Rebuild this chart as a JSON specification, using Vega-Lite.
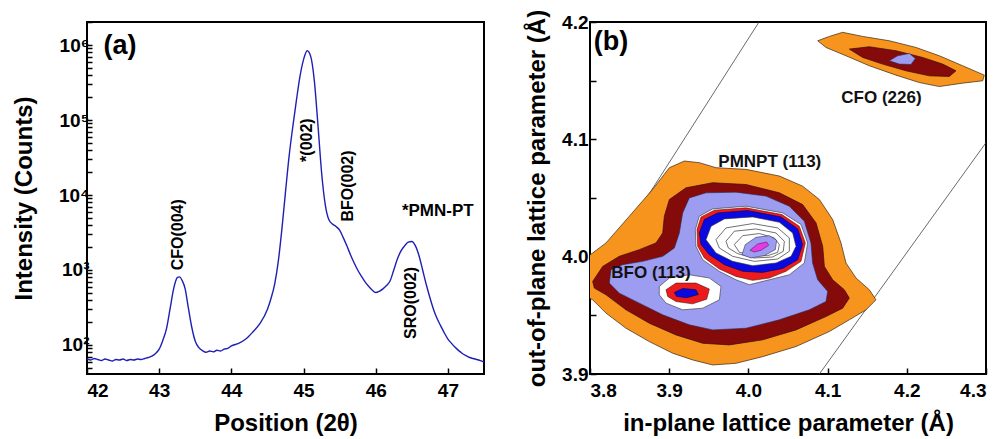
{
"$schema": "https://vega.github.io/schema/vega-lite/v6.json",
"padding": {"left": 11, "top": 8, "right": 5, "bottom": 5},
"background": "white",
"spacing": 39,
"config": {
  "view": {"stroke": "black", "strokeWidth": 2},
  "axis": {"domain": false, "grid": false, "labelFont": "Liberation Sans", "labelFontSize": 19, "labelFontWeight": "bold", "labelColor": "black", "titleFont": "Liberation Sans", "titleFontSize": 24, "titleFontWeight": "bold", "titleColor": "black", "tickColor": "black", "tickWidth": 1.5, "labelPadding": 6},
  "text": {"font": "Liberation Sans", "fontWeight": "bold", "color": "black"}
},
"datasets": {
  "xrd": [
    {"pos":42.00,"counts":65},{"pos":42.05,"counts":63},{"pos":42.10,"counts":66},{"pos":42.15,"counts":64},{"pos":42.20,"counts":62},{"pos":42.25,"counts":65},{"pos":42.30,"counts":63},{"pos":42.35,"counts":61},{"pos":42.40,"counts":64},{"pos":42.45,"counts":63},{"pos":42.50,"counts":65},{"pos":42.55,"counts":62},{"pos":42.60,"counts":64},{"pos":42.65,"counts":63},{"pos":42.70,"counts":65},{"pos":42.75,"counts":64},{"pos":42.80,"counts":66},{"pos":42.85,"counts":68},{"pos":42.90,"counts":71},{"pos":42.95,"counts":77},{"pos":43.00,"counts":88},{"pos":43.05,"counts":115},{"pos":43.10,"counts":163},{"pos":43.15,"counts":300},{"pos":43.20,"counts":560},{"pos":43.25,"counts":790},{"pos":43.28,"counts":810},{"pos":43.32,"counts":720},{"pos":43.36,"counts":560},{"pos":43.40,"counts":330},{"pos":43.45,"counts":175},{"pos":43.50,"counts":112},{"pos":43.55,"counts":92},{"pos":43.60,"counts":84},{"pos":43.65,"counts":80},{"pos":43.70,"counts":83},{"pos":43.75,"counts":81},{"pos":43.80,"counts":85},{"pos":43.85,"counts":83},{"pos":43.90,"counts":88},{"pos":43.95,"counts":90},{"pos":44.00,"counts":97},{"pos":44.10,"counts":105},{"pos":44.20,"counts":120},{"pos":44.30,"counts":150},{"pos":44.40,"counts":195},{"pos":44.50,"counts":300},{"pos":44.55,"counts":420},{"pos":44.60,"counts":650},{"pos":44.65,"counts":1300},{"pos":44.70,"counts":3500},{"pos":44.75,"counts":11000},{"pos":44.80,"counts":33000},{"pos":44.85,"counts":80000},{"pos":44.90,"counts":180000},{"pos":44.95,"counts":380000},{"pos":45.00,"counts":640000},{"pos":45.05,"counts":840000},{"pos":45.10,"counts":700000},{"pos":45.15,"counts":330000},{"pos":45.20,"counts":85000},{"pos":45.25,"counts":20000},{"pos":45.30,"counts":7500},{"pos":45.35,"counts":4700},{"pos":45.40,"counts":4100},{"pos":45.45,"counts":3800},{"pos":45.50,"counts":3400},{"pos":45.55,"counts":2700},{"pos":45.60,"counts":2100},{"pos":45.65,"counts":1600},{"pos":45.70,"counts":1250},{"pos":45.75,"counts":1000},{"pos":45.80,"counts":830},{"pos":45.85,"counts":700},{"pos":45.90,"counts":610},{"pos":45.95,"counts":540},{"pos":46.00,"counts":500},{"pos":46.05,"counts":520},{"pos":46.10,"counts":560},{"pos":46.15,"counts":620},{"pos":46.20,"counts":720},{"pos":46.25,"counts":1000},{"pos":46.30,"counts":1400},{"pos":46.35,"counts":1800},{"pos":46.40,"counts":2100},{"pos":46.45,"counts":2350},{"pos":46.50,"counts":2400},{"pos":46.55,"counts":2100},{"pos":46.60,"counts":1550},{"pos":46.65,"counts":1000},{"pos":46.70,"counts":640},{"pos":46.75,"counts":430},{"pos":46.80,"counts":300},{"pos":46.85,"counts":225},{"pos":46.90,"counts":180},{"pos":46.95,"counts":145},{"pos":47.00,"counts":120},{"pos":47.05,"counts":105},{"pos":47.10,"counts":93},{"pos":47.15,"counts":84},{"pos":47.20,"counts":77},{"pos":47.25,"counts":72},{"pos":47.30,"counts":68},{"pos":47.35,"counts":66},{"pos":47.40,"counts":64},{"pos":47.45,"counts":62},{"pos":47.50,"counts":59}
  ],
  "xrdrot": [
    {"label":"CFO(004)","pos":43.26,"counts":2950},
    {"label":"*(002)","pos":45.05,"counts":54000},
    {"label":"BFO(002)","pos":45.62,"counts":13200},
    {"label":"SRO(002)","pos":46.49,"counts":363}
  ],
  "xrdhor": [
    {"label":"*PMN-PT","pos":46.86,"counts":6100}
  ],
  "panels": [
    {"label":"(a)","pos":42.457,"counts":970000}
  ],
  "diag": [
    {"line":1,"i":1,"a":3.8,"c":3.9746},{"line":1,"i":2,"a":4.0134,"c":4.2},
    {"line":2,"i":1,"a":4.0896,"c":3.9},{"line":2,"i":2,"a":4.3,"c":4.0972}
  ],
  "rsmlab": [
    {"label":"CFO (226)","a":4.168,"c":4.1356},
    {"label":"PMNPT (113)","a":4.027,"c":4.081},
    {"label":"BFO (113)","a":3.877,"c":3.986}
  ],
  "rsmpanel": [
    {"label":"(b)","a":3.8265,"c":4.183}
  ],
  "rsm": [
    {"lvl":"o","s":"o1","i":1,"a":3.7865,"c":3.9946},{"lvl":"o","s":"o1","i":2,"a":3.8202,"c":4.0117},{"lvl":"o","s":"o1","i":3,"a":3.8497,"c":4.0345},{"lvl":"o","s":"o1","i":4,"a":3.8791,"c":4.0573},{"lvl":"o","s":"o1","i":5,"a":3.9002,"c":4.0758},{"lvl":"o","s":"o1","i":6,"a":3.9191,"c":4.0815},{"lvl":"o","s":"o1","i":7,"a":3.9380,"c":4.0801},{"lvl":"o","s":"o1","i":8,"a":3.9591,"c":4.0758},{"lvl":"o","s":"o1","i":9,"a":3.9970,"c":4.0744},{"lvl":"o","s":"o1","i":10,"a":4.0391,"c":4.0687},{"lvl":"o","s":"o1","i":11,"a":4.0685,"c":4.0601},{"lvl":"o","s":"o1","i":12,"a":4.0896,"c":4.0487},{"lvl":"o","s":"o1","i":13,"a":4.1064,"c":4.0316},{"lvl":"o","s":"o1","i":14,"a":4.1169,"c":4.0117},{"lvl":"o","s":"o1","i":15,"a":4.1232,"c":3.9946},{"lvl":"o","s":"o1","i":16,"a":4.1359,"c":3.9818},{"lvl":"o","s":"o1","i":17,"a":4.1527,"c":3.9718},{"lvl":"o","s":"o1","i":18,"a":4.1611,"c":3.9632},{"lvl":"o","s":"o1","i":19,"a":4.1485,"c":3.9547},{"lvl":"o","s":"o1","i":20,"a":4.1274,"c":3.9462},{"lvl":"o","s":"o1","i":21,"a":4.1022,"c":3.9362},{"lvl":"o","s":"o1","i":22,"a":4.0601,"c":3.9234},{"lvl":"o","s":"o1","i":23,"a":4.0180,"c":3.9148},{"lvl":"o","s":"o1","i":24,"a":3.9843,"c":3.9091},{"lvl":"o","s":"o1","i":25,"a":3.9549,"c":3.9077},{"lvl":"o","s":"o1","i":26,"a":3.9296,"c":3.9120},{"lvl":"o","s":"o1","i":27,"a":3.9044,"c":3.9177},{"lvl":"o","s":"o1","i":28,"a":3.8749,"c":3.9276},{"lvl":"o","s":"o1","i":29,"a":3.8455,"c":3.9390},{"lvl":"o","s":"o1","i":30,"a":3.8202,"c":3.9519},{"lvl":"o","s":"o1","i":31,"a":3.8034,"c":3.9632},{"lvl":"o","s":"o1","i":32,"a":3.7865,"c":3.9689},{"lvl":"o","s":"o1","i":33,"a":3.7865,"c":3.9946},
    {"lvl":"o","s":"o2","i":1,"a":4.0875,"c":4.1840},{"lvl":"o","s":"o2","i":2,"a":4.1022,"c":4.1877},{"lvl":"o","s":"o2","i":3,"a":4.1190,"c":4.1912},{"lvl":"o","s":"o2","i":4,"a":4.1443,"c":4.1877},{"lvl":"o","s":"o2","i":5,"a":4.1779,"c":4.1840},{"lvl":"o","s":"o2","i":6,"a":4.2116,"c":4.1783},{"lvl":"o","s":"o2","i":7,"a":4.2411,"c":4.1712},{"lvl":"o","s":"o2","i":8,"a":4.2705,"c":4.1627},{"lvl":"o","s":"o2","i":9,"a":4.2979,"c":4.1547},{"lvl":"o","s":"o2","i":10,"a":4.2958,"c":4.1499},{"lvl":"o","s":"o2","i":11,"a":4.2705,"c":4.1479},{"lvl":"o","s":"o2","i":12,"a":4.2411,"c":4.1450},{"lvl":"o","s":"o2","i":13,"a":4.2158,"c":4.1484},{"lvl":"o","s":"o2","i":14,"a":4.1864,"c":4.1547},{"lvl":"o","s":"o2","i":15,"a":4.1527,"c":4.1627},{"lvl":"o","s":"o2","i":16,"a":4.1232,"c":4.1712},{"lvl":"o","s":"o2","i":17,"a":4.0980,"c":4.1783},{"lvl":"o","s":"o2","i":18,"a":4.0875,"c":4.1840},
    {"lvl":"m","s":"m1","i":1,"a":3.8034,"c":3.9789},{"lvl":"m","s":"m1","i":2,"a":3.8160,"c":3.9917},{"lvl":"m","s":"m1","i":3,"a":3.8370,"c":4.0003},{"lvl":"m","s":"m1","i":4,"a":3.8623,"c":4.0060},{"lvl":"m","s":"m1","i":5,"a":3.8833,"c":4.0117},{"lvl":"m","s":"m1","i":6,"a":3.8918,"c":4.0202},{"lvl":"m","s":"m1","i":7,"a":3.8939,"c":4.0345},{"lvl":"m","s":"m1","i":8,"a":3.9002,"c":4.0487},{"lvl":"m","s":"m1","i":9,"a":3.9212,"c":4.0587},{"lvl":"m","s":"m1","i":10,"a":3.9549,"c":4.0630},{"lvl":"m","s":"m1","i":11,"a":3.9970,"c":4.0615},{"lvl":"m","s":"m1","i":12,"a":4.0391,"c":4.0544},{"lvl":"m","s":"m1","i":13,"a":4.0685,"c":4.0444},{"lvl":"m","s":"m1","i":14,"a":4.0854,"c":4.0288},{"lvl":"m","s":"m1","i":15,"a":4.0938,"c":4.0088},{"lvl":"m","s":"m1","i":16,"a":4.0959,"c":3.9917},{"lvl":"m","s":"m1","i":17,"a":4.1064,"c":3.9803},{"lvl":"m","s":"m1","i":18,"a":4.1211,"c":3.9718},{"lvl":"m","s":"m1","i":19,"a":4.1274,"c":3.9647},{"lvl":"m","s":"m1","i":20,"a":4.1190,"c":3.9561},{"lvl":"m","s":"m1","i":21,"a":4.0980,"c":3.9490},{"lvl":"m","s":"m1","i":22,"a":4.0601,"c":3.9376},{"lvl":"m","s":"m1","i":23,"a":4.0180,"c":3.9291},{"lvl":"m","s":"m1","i":24,"a":3.9759,"c":3.9248},{"lvl":"m","s":"m1","i":25,"a":3.9423,"c":3.9262},{"lvl":"m","s":"m1","i":26,"a":3.9086,"c":3.9333},{"lvl":"m","s":"m1","i":27,"a":3.8749,"c":3.9433},{"lvl":"m","s":"m1","i":28,"a":3.8455,"c":3.9547},{"lvl":"m","s":"m1","i":29,"a":3.8202,"c":3.9675},{"lvl":"m","s":"m1","i":30,"a":3.8055,"c":3.9732},{"lvl":"m","s":"m1","i":31,"a":3.8034,"c":3.9789},
    {"lvl":"m","s":"m2","i":1,"a":4.1274,"c":4.1769},{"lvl":"m","s":"m2","i":2,"a":4.1527,"c":4.1789},{"lvl":"m","s":"m2","i":3,"a":4.1864,"c":4.1755},{"lvl":"m","s":"m2","i":4,"a":4.2200,"c":4.1698},{"lvl":"m","s":"m2","i":5,"a":4.2453,"c":4.1641},{"lvl":"m","s":"m2","i":6,"a":4.2621,"c":4.1584},{"lvl":"m","s":"m2","i":7,"a":4.2537,"c":4.1536},{"lvl":"m","s":"m2","i":8,"a":4.2285,"c":4.1541},{"lvl":"m","s":"m2","i":9,"a":4.1990,"c":4.1584},{"lvl":"m","s":"m2","i":10,"a":4.1695,"c":4.1641},{"lvl":"m","s":"m2","i":11,"a":4.1443,"c":4.1698},{"lvl":"m","s":"m2","i":12,"a":4.1274,"c":4.1769},
    {"lvl":"l","s":"l1","i":1,"a":3.8244,"c":3.9775},{"lvl":"l","s":"l1","i":2,"a":3.8265,"c":3.9889},{"lvl":"l","s":"l1","i":3,"a":3.8412,"c":3.9932},{"lvl":"l","s":"l1","i":4,"a":3.8665,"c":3.9960},{"lvl":"l","s":"l1","i":5,"a":3.8918,"c":4.0003},{"lvl":"l","s":"l1","i":6,"a":3.9065,"c":4.0074},{"lvl":"l","s":"l1","i":7,"a":3.9128,"c":4.0202},{"lvl":"l","s":"l1","i":8,"a":3.9170,"c":4.0373},{"lvl":"l","s":"l1","i":9,"a":3.9254,"c":4.0501},{"lvl":"l","s":"l1","i":10,"a":3.9465,"c":4.0544},{"lvl":"l","s":"l1","i":11,"a":3.9843,"c":4.0550},{"lvl":"l","s":"l1","i":12,"a":4.0222,"c":4.0516},{"lvl":"l","s":"l1","i":13,"a":4.0517,"c":4.0430},{"lvl":"l","s":"l1","i":14,"a":4.0706,"c":4.0302},{"lvl":"l","s":"l1","i":15,"a":4.0790,"c":4.0117},{"lvl":"l","s":"l1","i":16,"a":4.0811,"c":3.9946},{"lvl":"l","s":"l1","i":17,"a":4.0875,"c":3.9803},{"lvl":"l","s":"l1","i":18,"a":4.1001,"c":3.9704},{"lvl":"l","s":"l1","i":19,"a":4.0980,"c":3.9618},{"lvl":"l","s":"l1","i":20,"a":4.0769,"c":3.9547},{"lvl":"l","s":"l1","i":21,"a":4.0391,"c":3.9462},{"lvl":"l","s":"l1","i":22,"a":3.9970,"c":3.9390},{"lvl":"l","s":"l1","i":23,"a":3.9549,"c":3.9376},{"lvl":"l","s":"l1","i":24,"a":3.9254,"c":3.9419},{"lvl":"l","s":"l1","i":25,"a":3.8918,"c":3.9504},{"lvl":"l","s":"l1","i":26,"a":3.8623,"c":3.9604},{"lvl":"l","s":"l1","i":27,"a":3.8370,"c":3.9689},{"lvl":"l","s":"l1","i":28,"a":3.8244,"c":3.9775},
    {"lvl":"l","s":"l2","i":1,"a":4.1779,"c":4.1670},{"lvl":"l","s":"l2","i":2,"a":4.1885,"c":4.1712},{"lvl":"l","s":"l2","i":3,"a":4.2032,"c":4.1732},{"lvl":"l","s":"l2","i":4,"a":4.2108,"c":4.1689},{"lvl":"l","s":"l2","i":5,"a":4.2053,"c":4.1638},{"lvl":"l","s":"l2","i":6,"a":4.1906,"c":4.1641},{"lvl":"l","s":"l2","i":7,"a":4.1779,"c":4.1670},
    {"lvl":"w","s":"w1","i":1,"a":3.9330,"c":4.0231},{"lvl":"w","s":"w1","i":2,"a":3.9380,"c":4.0345},{"lvl":"w","s":"w1","i":3,"a":3.9549,"c":4.0407},{"lvl":"w","s":"w1","i":4,"a":3.9970,"c":4.0430},{"lvl":"w","s":"w1","i":5,"a":4.0433,"c":4.0373},{"lvl":"w","s":"w1","i":6,"a":4.0664,"c":4.0274},{"lvl":"w","s":"w1","i":7,"a":4.0748,"c":4.0117},{"lvl":"w","s":"w1","i":8,"a":4.0706,"c":3.9946},{"lvl":"w","s":"w1","i":9,"a":4.0517,"c":3.9846},{"lvl":"w","s":"w1","i":10,"a":4.0264,"c":3.9803},{"lvl":"w","s":"w1","i":11,"a":4.0012,"c":3.9761},{"lvl":"w","s":"w1","i":12,"a":3.9843,"c":3.9803},{"lvl":"w","s":"w1","i":13,"a":3.9633,"c":3.9875},{"lvl":"w","s":"w1","i":14,"a":3.9423,"c":3.9974},{"lvl":"w","s":"w1","i":15,"a":3.9338,"c":4.0088},{"lvl":"w","s":"w1","i":16,"a":3.9330,"c":4.0231},
    {"lvl":"w","s":"w2","i":1,"a":3.8875,"c":3.9746},{"lvl":"w","s":"w2","i":2,"a":3.9002,"c":3.9818},{"lvl":"w","s":"w2","i":3,"a":3.9254,"c":3.9846},{"lvl":"w","s":"w2","i":4,"a":3.9507,"c":3.9818},{"lvl":"w","s":"w2","i":5,"a":3.9654,"c":3.9746},{"lvl":"w","s":"w2","i":6,"a":3.9633,"c":3.9632},{"lvl":"w","s":"w2","i":7,"a":3.9423,"c":3.9561},{"lvl":"w","s":"w2","i":8,"a":3.9170,"c":3.9547},{"lvl":"w","s":"w2","i":9,"a":3.8960,"c":3.9604},{"lvl":"w","s":"w2","i":10,"a":3.8875,"c":3.9675},{"lvl":"w","s":"w2","i":11,"a":3.8875,"c":3.9746},
    {"lvl":"r","s":"r1","i":1,"a":3.9351,"c":4.0231},{"lvl":"r","s":"r1","i":2,"a":3.9402,"c":4.0339},{"lvl":"r","s":"r1","i":3,"a":3.9570,"c":4.0396},{"lvl":"r","s":"r1","i":4,"a":3.9970,"c":4.0416},{"lvl":"r","s":"r1","i":5,"a":4.0424,"c":4.0359},{"lvl":"r","s":"r1","i":6,"a":4.0643,"c":4.0259},{"lvl":"r","s":"r1","i":7,"a":4.0719,"c":4.0117},{"lvl":"r","s":"r1","i":8,"a":4.0664,"c":3.9960},{"lvl":"r","s":"r1","i":9,"a":4.0475,"c":3.9875},{"lvl":"r","s":"r1","i":10,"a":4.0264,"c":3.9818},{"lvl":"r","s":"r1","i":11,"a":4.0054,"c":3.9798},{"lvl":"r","s":"r1","i":12,"a":3.9843,"c":3.9832},{"lvl":"r","s":"r1","i":13,"a":3.9633,"c":3.9895},{"lvl":"r","s":"r1","i":14,"a":3.9444,"c":3.9989},{"lvl":"r","s":"r1","i":15,"a":3.9360,"c":4.0088},{"lvl":"r","s":"r1","i":16,"a":3.9351,"c":4.0231},
    {"lvl":"r","s":"r2","i":1,"a":3.8960,"c":3.9718},{"lvl":"r","s":"r2","i":2,"a":3.9086,"c":3.9775},{"lvl":"r","s":"r2","i":3,"a":3.9338,"c":3.9775},{"lvl":"r","s":"r2","i":4,"a":3.9507,"c":3.9724},{"lvl":"r","s":"r2","i":5,"a":3.9473,"c":3.9638},{"lvl":"r","s":"r2","i":6,"a":3.9296,"c":3.9598},{"lvl":"r","s":"r2","i":7,"a":3.9086,"c":3.9618},{"lvl":"r","s":"r2","i":8,"a":3.8981,"c":3.9661},{"lvl":"r","s":"r2","i":9,"a":3.8960,"c":3.9718},
    {"lvl":"b","s":"b1","i":1,"a":3.9380,"c":4.0202},{"lvl":"b","s":"b1","i":2,"a":3.9444,"c":4.0316},{"lvl":"b","s":"b1","i":3,"a":3.9613,"c":4.0373},{"lvl":"b","s":"b1","i":4,"a":3.9991,"c":4.0393},{"lvl":"b","s":"b1","i":5,"a":4.0412,"c":4.0339},{"lvl":"b","s":"b1","i":6,"a":4.0622,"c":4.0237},{"lvl":"b","s":"b1","i":7,"a":4.0685,"c":4.0103},{"lvl":"b","s":"b1","i":8,"a":4.0622,"c":3.9974},{"lvl":"b","s":"b1","i":9,"a":4.0433,"c":3.9900},{"lvl":"b","s":"b1","i":10,"a":4.0180,"c":3.9866},{"lvl":"b","s":"b1","i":11,"a":3.9928,"c":3.9875},{"lvl":"b","s":"b1","i":12,"a":3.9697,"c":3.9932},{"lvl":"b","s":"b1","i":13,"a":3.9507,"c":4.0017},{"lvl":"b","s":"b1","i":14,"a":3.9402,"c":4.0103},{"lvl":"b","s":"b1","i":15,"a":3.9380,"c":4.0202},
    {"lvl":"b","s":"b2","i":1,"a":3.9065,"c":3.9695},{"lvl":"b","s":"b2","i":2,"a":3.9170,"c":3.9729},{"lvl":"b","s":"b2","i":3,"a":3.9338,"c":3.9718},{"lvl":"b","s":"b2","i":4,"a":3.9368,"c":3.9678},{"lvl":"b","s":"b2","i":5,"a":3.9221,"c":3.9650},{"lvl":"b","s":"b2","i":6,"a":3.9094,"c":3.9661},{"lvl":"b","s":"b2","i":7,"a":3.9065,"c":3.9695},
    {"lvl":"wi","s":"wi","i":1,"a":3.9465,"c":4.0145},{"lvl":"wi","s":"wi","i":2,"a":3.9529,"c":4.0259},{"lvl":"wi","s":"wi","i":3,"a":3.9697,"c":4.0322},{"lvl":"wi","s":"wi","i":4,"a":4.0054,"c":4.0339},{"lvl":"wi","s":"wi","i":5,"a":4.0391,"c":4.0293},{"lvl":"wi","s":"wi","i":6,"a":4.0559,"c":4.0202},{"lvl":"wi","s":"wi","i":7,"a":4.0601,"c":4.0088},{"lvl":"wi","s":"wi","i":8,"a":4.0539,"c":4.0003},{"lvl":"wi","s":"wi","i":9,"a":4.0349,"c":3.9946},{"lvl":"wi","s":"wi","i":10,"a":4.0054,"c":3.9923},{"lvl":"wi","s":"wi","i":11,"a":3.9801,"c":3.9960},{"lvl":"wi","s":"wi","i":12,"a":3.9591,"c":4.0031},{"lvl":"wi","s":"wi","i":13,"a":3.9465,"c":4.0145},
    {"lvl":"k","s":"kA","i":1,"a":3.9591,"c":4.0145},{"lvl":"k","s":"kA","i":2,"a":3.9717,"c":4.0245},{"lvl":"k","s":"kA","i":3,"a":4.0054,"c":4.0282},{"lvl":"k","s":"kA","i":4,"a":4.0370,"c":4.0245},{"lvl":"k","s":"kA","i":5,"a":4.0517,"c":4.0160},{"lvl":"k","s":"kA","i":6,"a":4.0517,"c":4.0046},{"lvl":"k","s":"kA","i":7,"a":4.0370,"c":3.9980},{"lvl":"k","s":"kA","i":8,"a":4.0075,"c":3.9960},{"lvl":"k","s":"kA","i":9,"a":3.9801,"c":4.0003},{"lvl":"k","s":"kA","i":10,"a":3.9633,"c":4.0074},{"lvl":"k","s":"kA","i":11,"a":3.9591,"c":4.0145},
    {"lvl":"k","s":"kB","i":1,"a":3.9717,"c":4.0131},{"lvl":"k","s":"kB","i":2,"a":3.9822,"c":4.0217},{"lvl":"k","s":"kB","i":3,"a":4.0096,"c":4.0236},{"lvl":"k","s":"kB","i":4,"a":4.0348,"c":4.0202},{"lvl":"k","s":"kB","i":5,"a":4.0454,"c":4.0131},{"lvl":"k","s":"kB","i":6,"a":4.0441,"c":4.0046},{"lvl":"k","s":"kB","i":7,"a":4.0306,"c":3.9997},{"lvl":"k","s":"kB","i":8,"a":4.0075,"c":3.9989},{"lvl":"k","s":"kB","i":9,"a":3.9864,"c":4.0026},{"lvl":"k","s":"kB","i":10,"a":3.9747,"c":4.0074},{"lvl":"k","s":"kB","i":11,"a":3.9717,"c":4.0131},
    {"lvl":"k","s":"kC","i":1,"a":3.9822,"c":4.0103},{"lvl":"k","s":"kC","i":2,"a":3.9928,"c":4.0179},{"lvl":"k","s":"kC","i":3,"a":4.0138,"c":4.0197},{"lvl":"k","s":"kC","i":4,"a":4.0327,"c":4.0160},{"lvl":"k","s":"kC","i":5,"a":4.0391,"c":4.0103},{"lvl":"k","s":"kC","i":6,"a":4.0370,"c":4.0037},{"lvl":"k","s":"kC","i":7,"a":4.0243,"c":4.0009},{"lvl":"k","s":"kC","i":8,"a":4.0054,"c":4.0009},{"lvl":"k","s":"kC","i":9,"a":3.9886,"c":4.0037},{"lvl":"k","s":"kC","i":10,"a":3.9822,"c":4.0103},
    {"lvl":"ls","s":"ls","i":1,"a":3.9919,"c":4.0017},{"lvl":"ls","s":"ls","i":2,"a":3.9961,"c":4.0103},{"lvl":"ls","s":"ls","i":3,"a":4.0096,"c":4.0165},{"lvl":"ls","s":"ls","i":4,"a":4.0264,"c":4.0179},{"lvl":"ls","s":"ls","i":5,"a":4.0357,"c":4.0140},{"lvl":"ls","s":"ls","i":6,"a":4.0340,"c":4.0060},{"lvl":"ls","s":"ls","i":7,"a":4.0201,"c":4.0009},{"lvl":"ls","s":"ls","i":8,"a":4.0033,"c":3.9989},{"lvl":"ls","s":"ls","i":9,"a":3.9919,"c":4.0017},
    {"lvl":"g","s":"g","i":1,"a":4.0020,"c":4.0054},{"lvl":"g","s":"g","i":2,"a":4.0117,"c":4.0108},{"lvl":"g","s":"g","i":3,"a":4.0231,"c":4.0125},{"lvl":"g","s":"g","i":4,"a":4.0256,"c":4.0097},{"lvl":"g","s":"g","i":5,"a":4.0159,"c":4.0054},{"lvl":"g","s":"g","i":6,"a":4.0075,"c":4.0040},{"lvl":"g","s":"g","i":7,"a":4.0020,"c":4.0054}
  ]
},
"hconcat": [
  {
    "width": 397, "height": 352,
    "layer": [
      {
        "data": {"name": "xrd"},
        "mark": {"type": "line", "color": "#1f1fb4", "strokeWidth": 1.4, "interpolate": "monotone", "clip": true},
        "encoding": {
          "x": {"field": "pos", "type": "quantitative", "scale": {"domain": [42, 47.5], "nice": false, "zero": false},
                "axis": {"title": "Position (2θ)", "values": [42,42.5,43,43.5,44,44.5,45,45.5,46,46.5,47,47.5], "labelExpr": "datum.value % 1 == 0 ? format(datum.value, 'd') : ''", "tickSize": -6, "labelPadding": 13, "titlePadding": 11}},
          "y": {"field": "counts", "type": "quantitative", "scale": {"type": "log", "domain": [41, 2030000], "nice": false},
                "axis": {"title": "Intensity (Counts)", "tickSize": -5, "labelPadding": 3, "titlePadding": 22,
                         "values": [50,60,70,80,90,100,200,300,400,500,600,700,800,900,1000,2000,3000,4000,5000,6000,7000,8000,9000,10000,20000,30000,40000,50000,60000,70000,80000,90000,100000,200000,300000,400000,500000,600000,700000,800000,900000,1000000,2000000],
                         "labelExpr": "datum.value == 100 ? '10²' : datum.value == 1000 ? '10³' : datum.value == 10000 ? '10⁴' : datum.value == 100000 ? '10⁵' : datum.value == 1000000 ? '10⁶' : ''"}}
        }
      },
      {
        "data": {"name": "xrdrot"},
        "mark": {"type": "text", "angle": 270, "fontSize": 16, "align": "center", "baseline": "middle"},
        "encoding": {
          "x": {"field": "pos", "type": "quantitative"},
          "y": {"field": "counts", "type": "quantitative"},
          "text": {"field": "label"}
        }
      },
      {
        "data": {"name": "xrdhor"},
        "mark": {"type": "text", "fontSize": 17, "align": "center", "baseline": "middle"},
        "encoding": {
          "x": {"field": "pos", "type": "quantitative"},
          "y": {"field": "counts", "type": "quantitative"},
          "text": {"field": "label"}
        }
      },
      {
        "data": {"name": "panels"},
        "mark": {"type": "text", "fontSize": 27, "align": "center", "baseline": "middle"},
        "encoding": {
          "x": {"field": "pos", "type": "quantitative"},
          "y": {"field": "counts", "type": "quantitative"},
          "text": {"field": "label"}
        }
      }
    ]
  },
  {
    "width": 396, "height": 352,
    "layer": [
      {
        "data": {"name": "diag"},
        "mark": {"type": "line", "color": "#444444", "strokeWidth": 0.8, "clip": true},
        "encoding": {
          "x": {"field": "a", "type": "quantitative", "scale": {"domain": [3.8, 4.3], "nice": false, "zero": false},
                "axis": {"title": "in-plane lattice parameter (Å)", "values": [3.8,3.85,3.9,3.95,4.0,4.05,4.1,4.15,4.2,4.25,4.3],
                         "labelExpr": "abs(datum.value * 10 - round(datum.value * 10)) < 0.001 ? format(datum.value, '.1f') : ''", "tickSize": -6, "labelPadding": 13, "titlePadding": 11}},
          "y": {"field": "c", "type": "quantitative", "scale": {"domain": [3.9, 4.2], "nice": false, "zero": false},
                "axis": {"title": "out-of-plane lattice parameter (Å)", "values": [3.9,3.95,4.0,4.05,4.1,4.15,4.2],
                         "labelExpr": "abs(datum.value * 10 - round(datum.value * 10)) < 0.001 ? format(datum.value, '.1f') : ''", "tickSize": -6, "labelPadding": 8, "titlePadding": 12}},
          "detail": {"field": "line"},
          "order": {"field": "i"}
        }
      },
      {
        "data": {"name": "rsm"}, "transform": [{"filter": {"field": "lvl", "equal": "o"}}],
        "mark": {"type": "line", "fill": "#f7941d", "stroke": "#3a2410", "strokeWidth": 0.7, "clip": true},
        "encoding": {"x": {"field": "a", "type": "quantitative"}, "y": {"field": "c", "type": "quantitative"}, "detail": {"field": "s"}, "order": {"field": "i"}}
      },
      {
        "data": {"name": "rsm"}, "transform": [{"filter": {"field": "lvl", "equal": "m"}}],
        "mark": {"type": "line", "fill": "#850a0a", "stroke": "#3a0a0a", "strokeWidth": 0.7, "clip": true},
        "encoding": {"x": {"field": "a", "type": "quantitative"}, "y": {"field": "c", "type": "quantitative"}, "detail": {"field": "s"}, "order": {"field": "i"}}
      },
      {
        "data": {"name": "rsm"}, "transform": [{"filter": {"field": "lvl", "equal": "l"}}],
        "mark": {"type": "line", "fill": "#9c9cf0", "stroke": "#2a2a50", "strokeWidth": 0.6, "clip": true},
        "encoding": {"x": {"field": "a", "type": "quantitative"}, "y": {"field": "c", "type": "quantitative"}, "detail": {"field": "s"}, "order": {"field": "i"}}
      },
      {
        "data": {"name": "rsm"}, "transform": [{"filter": {"field": "lvl", "equal": "w"}}],
        "mark": {"type": "line", "fill": "#ffffff", "stroke": "#333333", "strokeWidth": 0.6, "clip": true},
        "encoding": {"x": {"field": "a", "type": "quantitative"}, "y": {"field": "c", "type": "quantitative"}, "detail": {"field": "s"}, "order": {"field": "i"}}
      },
      {
        "data": {"name": "rsm"}, "transform": [{"filter": {"field": "lvl", "equal": "r"}}],
        "mark": {"type": "line", "fill": "#ec1c1c", "stroke": "#551111", "strokeWidth": 0.6, "clip": true},
        "encoding": {"x": {"field": "a", "type": "quantitative"}, "y": {"field": "c", "type": "quantitative"}, "detail": {"field": "s"}, "order": {"field": "i"}}
      },
      {
        "data": {"name": "rsm"}, "transform": [{"filter": {"field": "lvl", "equal": "b"}}],
        "mark": {"type": "line", "fill": "#0a0ae0", "stroke": "#000055", "strokeWidth": 0.6, "clip": true},
        "encoding": {"x": {"field": "a", "type": "quantitative"}, "y": {"field": "c", "type": "quantitative"}, "detail": {"field": "s"}, "order": {"field": "i"}}
      },
      {
        "data": {"name": "rsm"}, "transform": [{"filter": {"field": "lvl", "equal": "wi"}}],
        "mark": {"type": "line", "fill": "#ffffff", "stroke": "#333333", "strokeWidth": 0.6, "clip": true},
        "encoding": {"x": {"field": "a", "type": "quantitative"}, "y": {"field": "c", "type": "quantitative"}, "detail": {"field": "s"}, "order": {"field": "i"}}
      },
      {
        "data": {"name": "rsm"}, "transform": [{"filter": {"field": "lvl", "equal": "k"}}],
        "mark": {"type": "line", "stroke": "#333333", "strokeWidth": 0.7, "clip": true},
        "encoding": {"x": {"field": "a", "type": "quantitative"}, "y": {"field": "c", "type": "quantitative"}, "detail": {"field": "s"}, "order": {"field": "i"}}
      },
      {
        "data": {"name": "rsm"}, "transform": [{"filter": {"field": "lvl", "equal": "ls"}}],
        "mark": {"type": "line", "fill": "#9c9cf0", "stroke": "#333366", "strokeWidth": 0.6, "clip": true},
        "encoding": {"x": {"field": "a", "type": "quantitative"}, "y": {"field": "c", "type": "quantitative"}, "detail": {"field": "s"}, "order": {"field": "i"}}
      },
      {
        "data": {"name": "rsm"}, "transform": [{"filter": {"field": "lvl", "equal": "g"}}],
        "mark": {"type": "line", "fill": "#e838e8", "stroke": "#552255", "strokeWidth": 0.6, "clip": true},
        "encoding": {"x": {"field": "a", "type": "quantitative"}, "y": {"field": "c", "type": "quantitative"}, "detail": {"field": "s"}, "order": {"field": "i"}}
      },
      {
        "data": {"name": "rsmlab"},
        "mark": {"type": "text", "fontSize": 17, "align": "center", "baseline": "middle", "color": "#111111"},
        "encoding": {"x": {"field": "a", "type": "quantitative"}, "y": {"field": "c", "type": "quantitative"}, "text": {"field": "label"}}
      },
      {
        "data": {"name": "rsmpanel"},
        "mark": {"type": "text", "fontSize": 27, "align": "center", "baseline": "middle"},
        "encoding": {"x": {"field": "a", "type": "quantitative"}, "y": {"field": "c", "type": "quantitative"}, "text": {"field": "label"}}
      }
    ]
  }
]
}
